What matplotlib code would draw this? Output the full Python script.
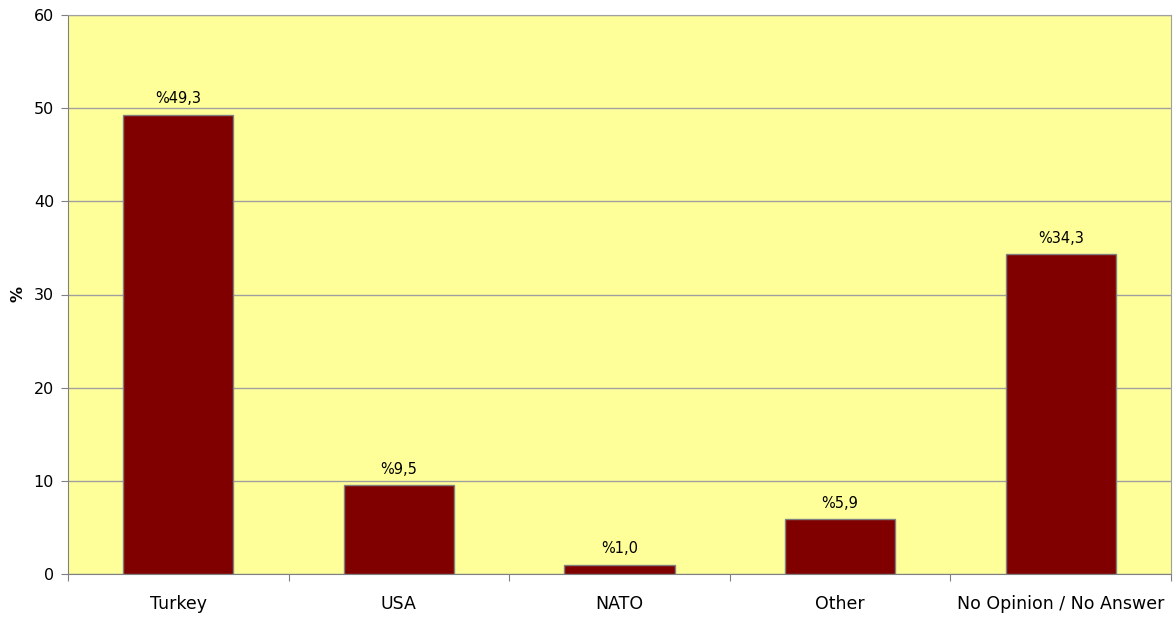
import matplotlib.pyplot as plt
import numpy as np

categories = ['Turkey', 'USA', 'NATO', 'Other', 'No Opinion / No Answer']
values = [49.3, 9.5, 1.0, 5.9, 34.3]
labels = ['%49,3', '%9,5', '%1,0', '%5,9', '%34,3']

plt.rcParams['font.family'] = ['DejaVu Sans']

fig = plt.figure(figsize=(11.74, 6.19), dpi=100)
ax = fig.add_axes([68 / 1174, 45 / 619, 1103 / 1174, 559 / 619])
ax.set_facecolor('#FFFF99')

x = np.arange(len(categories))
bars = ax.bar(x, values, width=0.5, color='#800000', edgecolor='#808080', linewidth=1, zorder=3)
for b, lab in zip(bars, labels):
    ax.text(b.get_x() + b.get_width() / 2, b.get_height() + 0.9, lab,
            ha='center', va='bottom', fontsize=10.5, zorder=4)

ax.set_xlim(-0.5, len(categories) - 0.5)
ax.set_ylim(0, 60)
ax.set_yticks(range(0, 61, 10))
ax.yaxis.grid(True, color='#A0A0A0', linewidth=1, zorder=0)

# category ticks sit between the bars
ax.set_xticks(np.arange(-0.5, len(categories), 1.0))
ax.set_xticklabels([])
ax.set_xticks(x, minor=True)
ax.set_xticklabels(categories, minor=True, fontsize=12.5)
ax.tick_params(axis='x', which='minor', length=0, pad=15)
ax.tick_params(axis='x', which='major', length=5, color='#808080', direction='out')
ax.tick_params(axis='y', length=5, color='#808080', labelsize=11.5, pad=5)

for side in ['left', 'bottom', 'right', 'top']:
    ax.spines[side].set_color('#A0A0A0')
ax.spines['left'].set_color('#808080')
ax.spines['bottom'].set_color('#808080')

ax.set_ylabel('%', fontweight='bold', fontsize=11.5, labelpad=6)

fig.savefig('out.png')
